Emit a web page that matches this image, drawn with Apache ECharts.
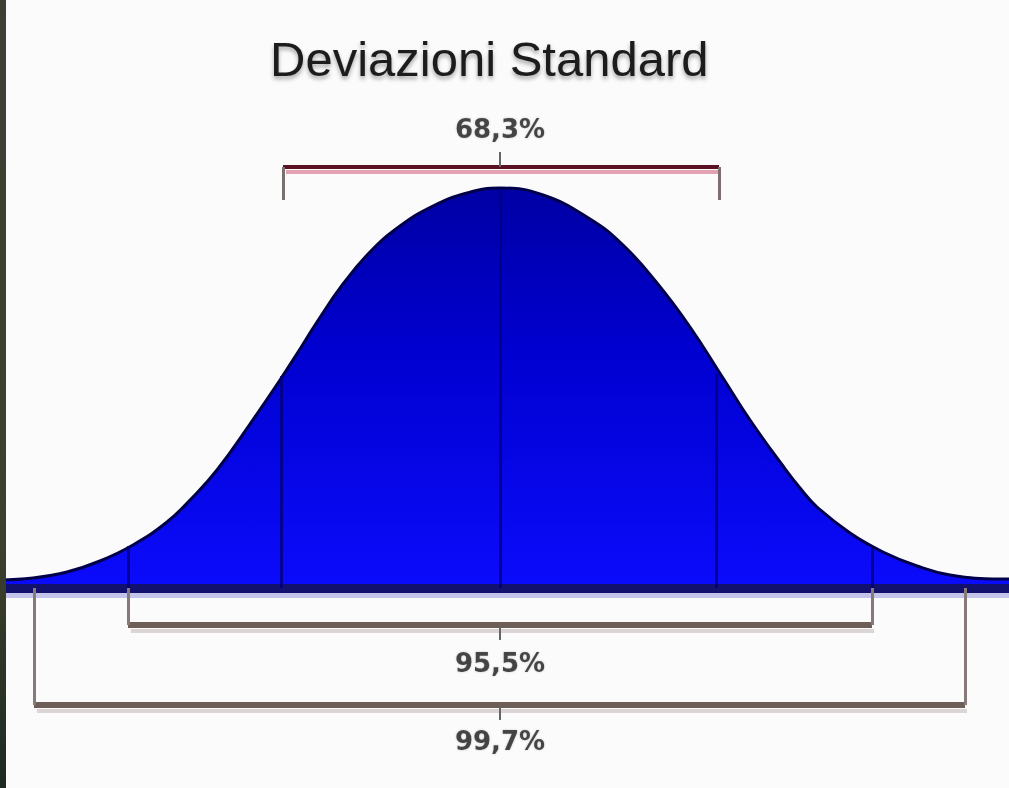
<!DOCTYPE html>
<html>
<head>
<meta charset="utf-8">
<script src="https://cdn.jsdelivr.net/npm/echarts@6/dist/echarts.min.js"></script>
<style>
  html, body { margin: 0; padding: 0; background: #fbfbfb; }
  #chart { position: absolute; left: 0; top: 0; width: 1009px; height: 788px; }
  #edge { position: absolute; left: 0; top: 0; width: 6px; height: 788px;
          background: linear-gradient(#3c4033, #3d3f2c 70%, #1c2a22); z-index: 10; }
</style>
</head>
<body>
<div id="chart"></div>
<div id="edge"></div>
<script>
// ---- data ----
// horizontal position relative to the mean (axis units), curve height (peak = 100)
const curveX = [-500,-467,-433,-400,-367,-333,-308,-283,-250,-220,-200,-183,-157,-130,-100,-67,-33,0,43,90,123,157,190,223,250,283,300,317,350,383,417,450,500,509];
const curveY = [2,2.5,4,6.75,10.75,16.5,22.5,29.5,41,52,59.75,66.5,76,84,90.5,95.5,98.75,100,98.25,92.25,85.75,76.25,65.25,52.5,42,30.5,25,20.25,13.75,9,5.5,3.25,2.25,2.25];
// sigma division lines inside the curve
const sigmaLineX = [-372, -219, 0, 216, 372];
const sigmaLineTop = [10.5, 53, 99.5, 53.5, 10];
// brackets: ±1σ, ±2σ, ±3σ
const bracketLeft = [-217, -372, -466];
const bracketRight = [219, 372, 465];
const percentages = [68.3, 95.5, 99.7];
const titleText = 'Deviazioni Standard';

// ---- layout (axis units) ----
const layout = {
  barLevel: [105.25, -9.25, -29.25],
  shadowLevel: [104, -10.75, -30.75],
  legEnd: [97, 0, 0],
  tickEnd: [109, -13, -33],
  labelLevel: [114.75, -18.75, -38.25],
  baseShadow: -1.9
};

const fmt = v => v.toFixed(1).replace('.', ',') + '%';

const series = [];
// soft lavender glow under the baseline
series.push({
  type: 'line', silent: true, symbol: 'none', z: 1,
  data: [[-500, layout.baseShadow], [509, layout.baseShadow]],
  lineStyle: { color: '#c4c4ea', width: 5 }
});
series.push({
  type: 'line',
  data: curveX.map((x, i) => [x, curveY[i]]),
  smooth: 0.45,
  symbol: 'none',
  z: 2,
  lineStyle: { color: '#00004a', width: 3 },
  areaStyle: {
    opacity: 1,
    color: { type: 'linear', x: 0, y: 0, x2: 0, y2: 1, colorStops: [
      { offset: 0, color: '#0000a4' },
      { offset: 0.4, color: '#0000d0' },
      { offset: 1, color: '#0b0bfc' }
    ]}
  },
  markLine: {
    silent: true,
    symbol: ['none', 'none'],
    label: { show: false },
    lineStyle: { color: '#00007a', width: 3, type: 'solid', opacity: 0.8 },
    data: sigmaLineX.map((x, i) => [{ coord: [x, 0] }, { coord: [x, sigmaLineTop[i]] }])
  }
});

percentages.forEach((p, i) => {
  const first = i === 0;
  // light shadow under each bracket bar
  series.push({
    type: 'line', silent: true, symbol: 'none', z: 3,
    data: [[bracketLeft[i] + 3, layout.shadowLevel[i]], [bracketRight[i] + 2, layout.shadowLevel[i]]],
    lineStyle: first ? { color: '#e2a2b2', width: 4 } : { color: '#dcd5d3', width: 4 }
  });
  series.push({
    type: 'line',
    data: [[bracketLeft[i], layout.barLevel[i]], [bracketRight[i], layout.barLevel[i]]],
    symbol: 'none',
    z: 4,
    lineStyle: first ? { color: '#5a1222', width: 4 } : { color: '#6f5e57', width: 6 },
    markLine: {
      silent: true,
      symbol: ['none', 'none'],
      label: { show: false },
      lineStyle: { color: first ? '#7a7070' : '#857a78', width: 3, type: 'solid' },
      data: [
        [{ coord: [bracketLeft[i], layout.barLevel[i]] }, { coord: [bracketLeft[i], layout.legEnd[i]] }],
        [{ coord: [bracketRight[i], layout.barLevel[i]] }, { coord: [bracketRight[i], layout.legEnd[i]] }],
        [{ coord: [0, layout.barLevel[i]], lineStyle: { width: 2, color: '#666' } }, { coord: [0, layout.tickEnd[i]] }]
      ]
    }
  });
});

series.push({
  type: 'scatter',
  symbolSize: 0,
  z: 5,
  data: percentages.map((p, i) => ({ value: [0, layout.labelLevel[i]], name: fmt(p) })),
  label: {
    show: true,
    position: 'inside',
    formatter: d => d.name,
    fontFamily: 'DejaVu Sans',
    fontWeight: 'bold',
    fontSize: 26,
    color: '#222222',
    textShadowColor: 'rgba(0,0,0,0.25)',
    textShadowBlur: 2
  }
});

const chart = echarts.init(document.getElementById('chart'), null, { renderer: 'svg' });
chart.setOption({
  animation: false,
  backgroundColor: '#fbfbfb',
  title: {
    text: titleText,
    left: 270,
    top: 34,
    padding: 0,
    textStyle: {
      fontFamily: 'Liberation Sans',
      fontWeight: 'normal',
      fontSize: 49,
      color: '#1c1c1c',
      textShadowColor: 'rgba(0,0,0,0.35)',
      textShadowBlur: 4,
      textShadowOffsetY: 3
    }
  },
  grid: { left: 0, right: 0, top: 0, bottom: 0, containLabel: false },
  xAxis: {
    type: 'value', min: -500, max: 509, z: 3,
    axisLine: { show: true, onZero: true, lineStyle: { color: '#12126e', width: 9 } },
    axisTick: { show: false }, axisLabel: { show: false }, splitLine: { show: false }
  },
  yAxis: {
    type: 'value', min: -50, max: 147, show: false,
    splitLine: { show: false }
  },
  series: series
});
</script>
</body>
</html>
